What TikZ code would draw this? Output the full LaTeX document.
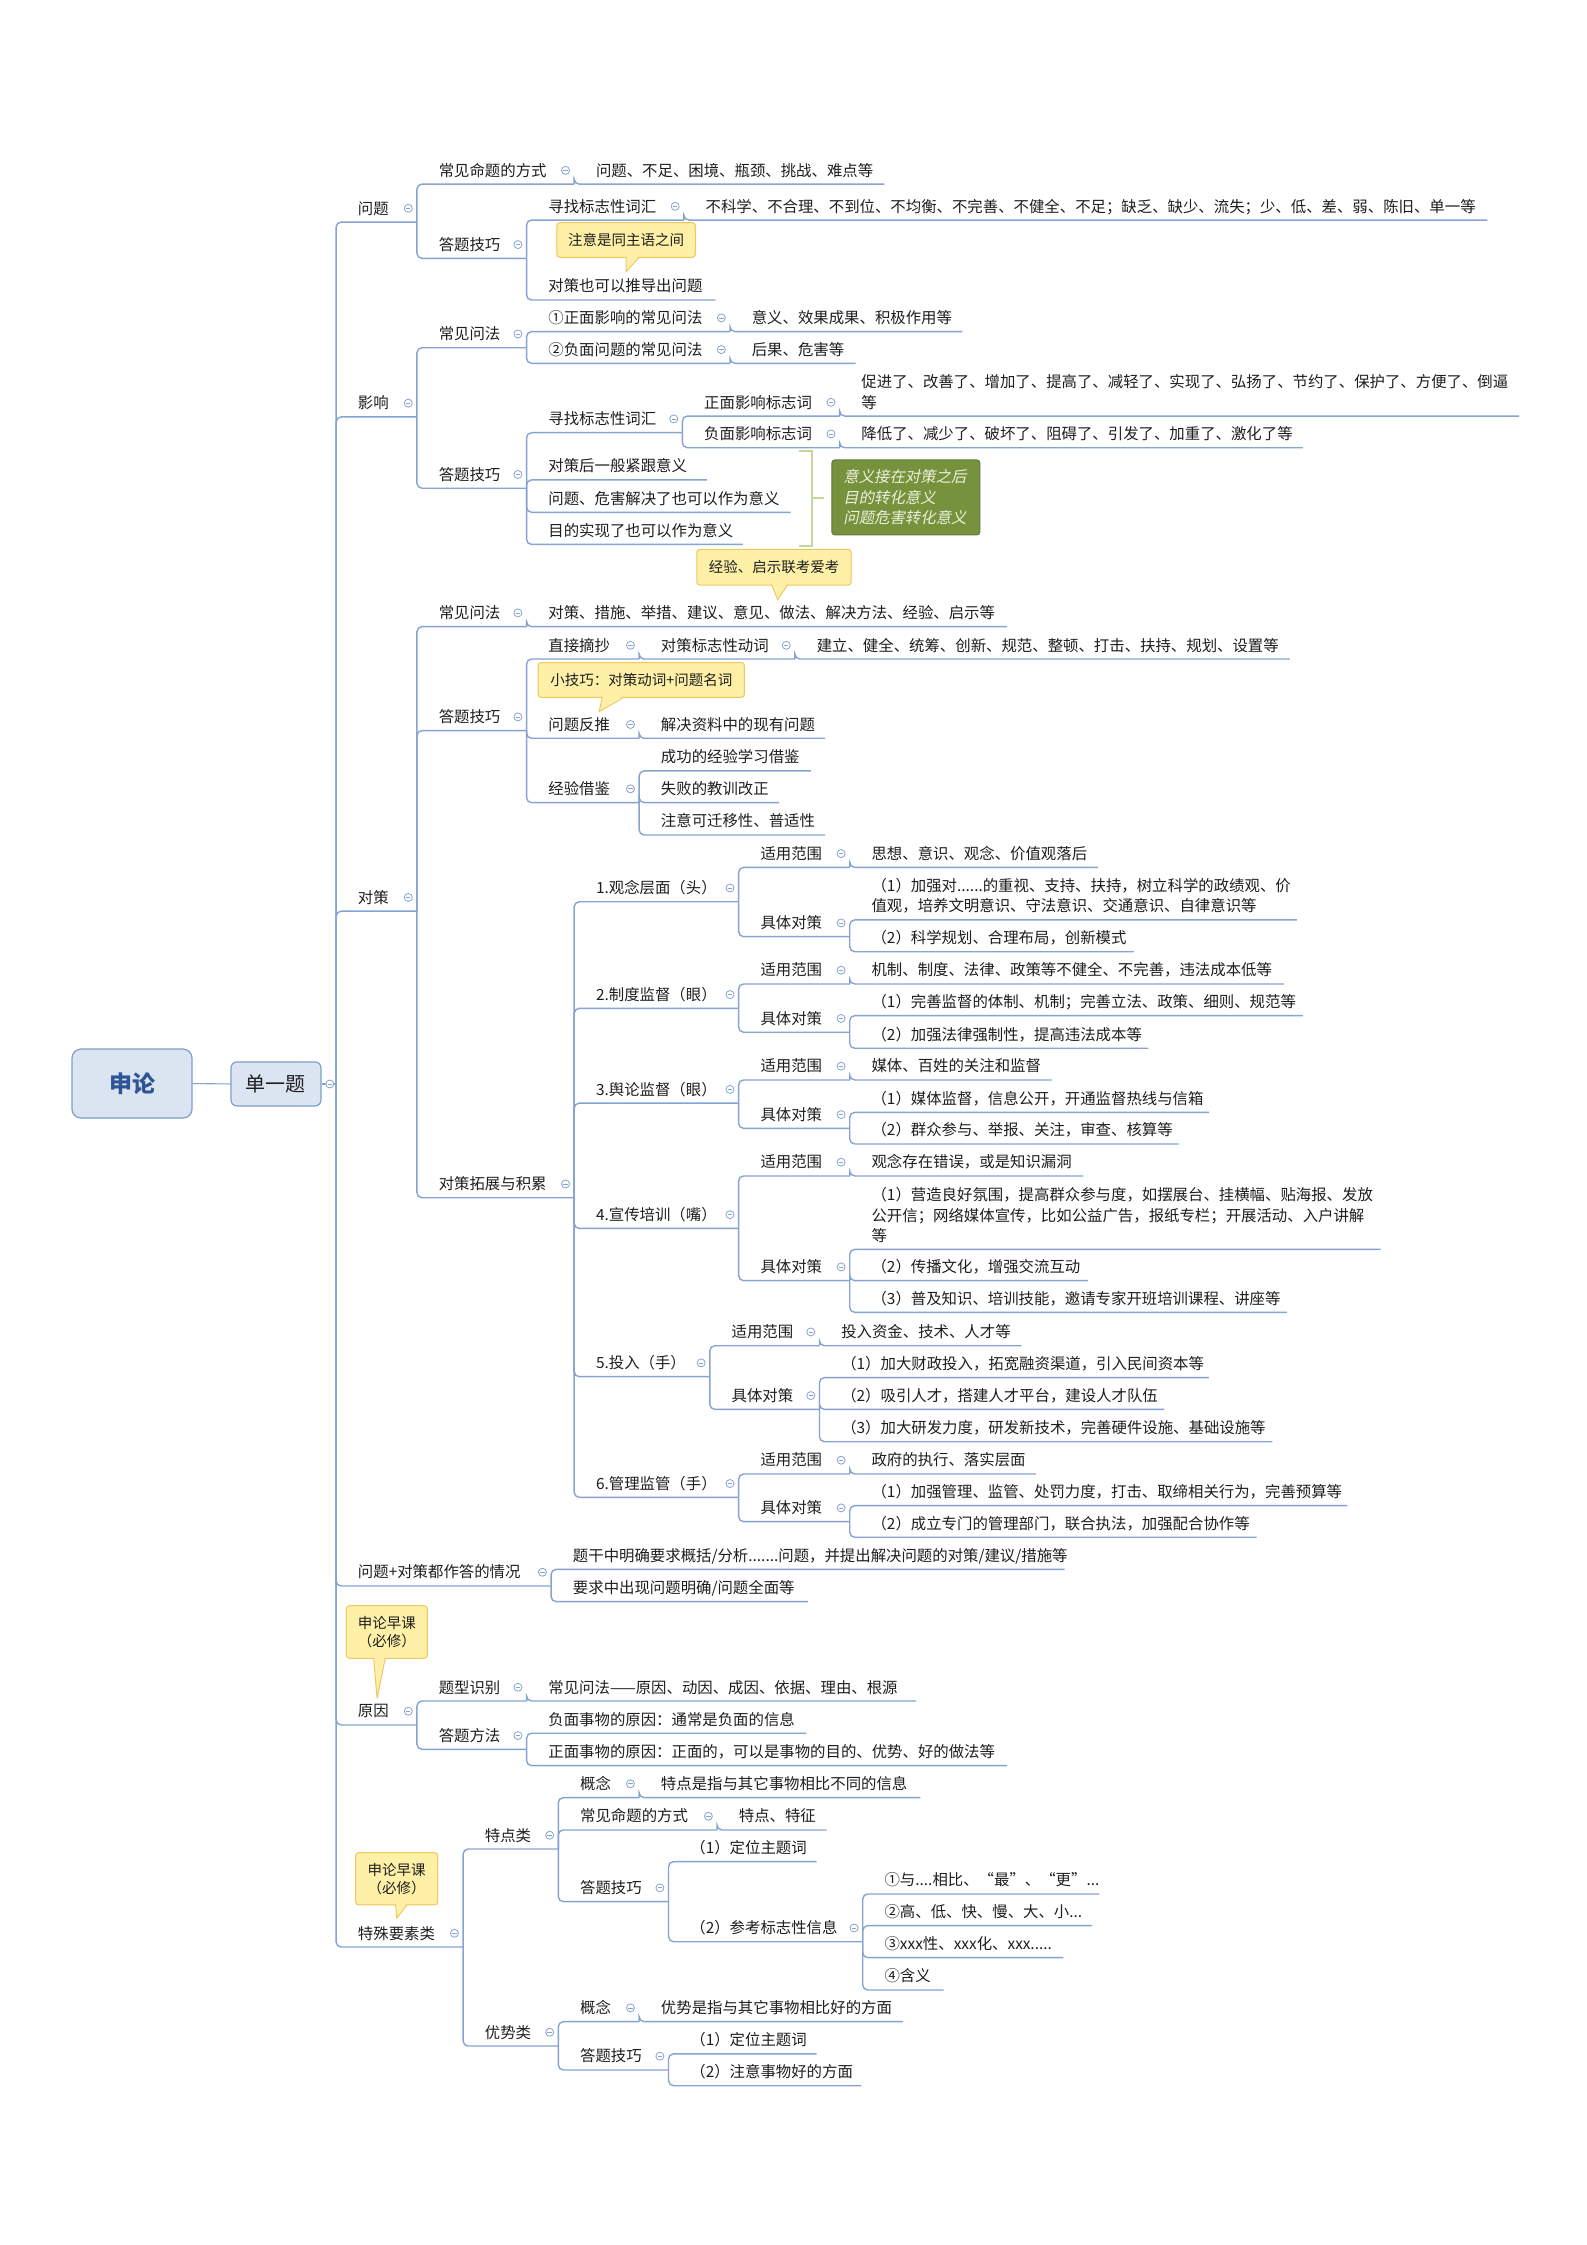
\documentclass[tikz,border=0pt]{standalone}
\usepackage{fontspec}
\setmainfont{Noto Sans CJK SC}
\newfontfamily\slfont{Noto Sans CJK SC}[FakeSlant=0.2]
\usetikzlibrary{calc}
\definecolor{lnc}{RGB}{134,163,210}
\definecolor{txc}{RGB}{30,30,30}
\definecolor{rbf}{RGB}{219,229,241}
\definecolor{rbd}{RGB}{126,157,204}
\definecolor{rtx}{RGB}{47,84,150}
\definecolor{cfl}{RGB}{254,240,166}
\definecolor{cdr}{RGB}{238,200,92}
\definecolor{sfl}{RGB}{119,146,60}
\definecolor{sdr}{RGB}{96,122,62}
\definecolor{stx}{RGB}{235,241,222}
\definecolor{brc}{RGB}{196,215,155}
\newcommand\mf{\fontsize{15.4pt}{20.2pt}\selectfont}
\newcommand\cfn{\fontsize{14.5pt}{18.3pt}\selectfont}
\tikzset{
  ln/.style={draw=lnc, line width=1.4pt, rounded corners=5pt},
  txt/.style={anchor=base west, inner sep=0pt, text=txc, font=\mf},
  cbtn/.style={circle, draw=lnc, fill=white, line width=0.8pt, minimum size=8pt, inner sep=0pt,
    path picture={\draw[lnc, line width=0.8pt] ([xshift=-2.2pt]path picture bounding box.center) -- ([xshift=2.2pt]path picture bounding box.center);}},
  rootbox/.style={draw=rbd, fill=rbf, line width=1.2pt, rounded corners=9pt, inner sep=0pt},
  callout/.style={draw=cdr, fill=cfl, line width=1pt, rounded corners=3pt, inner sep=0pt, text=txc, font=\cfn, align=center},
  sumbox/.style={draw=sdr, fill=sfl, line width=1pt, rounded corners=3pt, inner xsep=11.5pt, inner ysep=0pt, text width=125pt, minimum height=75pt, align=left, text=stx, font={\slfont\fontsize{15.4pt}{20.5pt}\selectfont}},
}
\newcommand\leafn[6]{%
  \coordinate (#1-e) at (#4,#5);
  \node[txt] (#1) at (#3+15,#5-5.6) {#6};
  \draw[ln] (#2-e) |- (#1-e);}
\newcommand\parn[6]{\leafn{#1}{#2}{#3}{#4}{#5}{#6}%
  \node[cbtn] (#1-c) at (#4-6,#5-9.6) {};}
\newcommand\leafm[7]{%
  \coordinate (#1-e) at (#4,#5);
  \node[txt] (#1) at (#3+15,#5-5.6-14.1*#6+14.1) {\vtop{#7}};
  \draw[ln] (#2-e) |- (#1-e);}
\newcommand\ctail[5]{%
  \fill[cfl] (#1+0.4,#3-0.9) -- (#4,#5) -- (#2-0.4,#3-0.9) -- cycle;
  \draw[cdr, line width=1pt, line join=round] (#1,#3) -- (#4,#5) -- (#2,#3);}
\begin{document}
\begin{tikzpicture}[x=1.4427pt,y=-1.4327pt]
\fill[white] (0,0) rectangle (1100,1567);
\useasboundingbox (0,0) rectangle (1100,1567);

% root
\node[rootbox, minimum width=120pt, minimum height=69pt, font=\fontsize{23pt}{23pt}\selectfont\bfseries, text=rtx] (sl) at (91.5,756.3) {申论};
\node[rootbox, rounded corners=6pt, minimum width=90pt, minimum height=44pt, font=\fontsize{20pt}{20pt}\selectfont, text=txc] (dyt) at (191.3,756.6) {单一题};
\coordinate (dyt-e) at (233,756.6);
\draw[draw=lnc, line width=1.1pt] (sl.east) -- (dyt.west);
\draw[ln] (dyt.east) -- (dyt-e);
\node[cbtn] (dyt-c) at (228.6,756.6) {};

% level 1
\parn{q1}{dyt}{233}{289}{155}{问题}
\parn{y1}{dyt}{233}{289}{291}{影响}
\parn{d1}{dyt}{233}{289}{636}{对策}
\parn{b1}{dyt}{233}{382}{1107}{问题+对策都作答的情况}
\parn{r1}{dyt}{233}{289}{1204}{原因}
\parn{t1}{dyt}{233}{321}{1359}{特殊要素类}

% 问题
\parn{q2a}{q1}{289}{398}{128.5}{常见命题的方式}
\leafn{q3a}{q2a}{398}{613}{128.5}{问题、不足、困境、瓶颈、挑战、难点等}
\parn{q2b}{q1}{289}{365}{180.3}{答题技巧}
\parn{q3b}{q2b}{365}{474}{153.6}{寻找标志性词汇}
\leafn{q4}{q3b}{474}{1031}{153.6}{不科学、不合理、不到位、不均衡、不完善、不健全、不足；缺乏、缺少、流失；少、低、差、弱、陈旧、单一等}
\leafn{q3c}{q2b}{365}{496}{209.4}{对策也可以推导出问题}
\node[callout, minimum width=138.5pt, minimum height=34.7pt] (c1) at (434,167.5) {注意是同主语之间};
\ctail{434}{443}{179.6}{434}{189.6}

% 影响
\parn{y2a}{y1}{289}{365}{242.7}{常见问法}
\parn{y3a}{y2a}{365}{506}{231.5}{①正面影响的常见问法}
\leafn{y4a}{y3a}{506}{667}{231.5}{意义、效果成果、积极作用等}
\parn{y3b}{y2a}{365}{506}{253.6}{②负面问题的常见问法}
\leafn{y4b}{y3b}{506}{593}{253.6}{后果、危害等}
\parn{y2b}{y1}{289}{365}{340.8}{答题技巧}
\parn{y3c}{y2b}{365}{473}{302}{寻找标志性词汇}
\parn{y4c}{y3c}{473}{582}{290.4}{正面影响标志词}
\leafm{y5a}{y4c}{582}{1053}{290.4}{2}{\hbox{促进了、改善了、增加了、提高了、减轻了、实现了、弘扬了、节约了、保护了、方便了、倒逼}\hbox{等}}
\parn{y4d}{y3c}{473}{582}{312.5}{负面影响标志词}
\leafn{y5b}{y4d}{582}{903}{312.5}{降低了、减少了、破坏了、阻碍了、引发了、加重了、激化了等}
\leafn{y3d}{y2b}{365}{490}{335}{对策后一般紧跟意义}
\leafn{y3e}{y2b}{365}{548}{357.6}{问题、危害解决了也可以作为意义}
\leafn{y3f}{y2b}{365}{515}{380}{目的实现了也可以作为意义}
\draw[brc, line width=1.6pt] (554,314.6) -- (563,314.6) -- (563,381) -- (554,381);
\draw[brc, line width=1.6pt] (563,347.5) -- (571,347.5);
\node[sumbox] (sum) at (627.9,347.2) {意义接在对策之后\\目的转化意义\\问题危害转化意义};
\node[callout, minimum width=154.4pt, minimum height=35.7pt] (c2) at (536.5,395.9) {经验、启示联考爱考};
\ctail{535}{546}{408.3}{539}{418.5}

% 对策
\parn{d2a}{d1}{289}{365}{437.4}{常见问法}
\leafn{d3a}{d2a}{365}{698}{437.4}{对策、措施、举措、建议、意见、做法、解决方法、经验、启示等}
\parn{d2b}{d1}{289}{365}{510}{答题技巧}
\parn{d3b}{d2b}{365}{443}{460}{直接摘抄}
\parn{d4b}{d3b}{443}{551}{460}{对策标志性动词}
\leafn{d5b}{d4b}{551}{894}{460}{建立、健全、统筹、创新、规范、整顿、打击、扶持、规划、设置等}
\parn{d3c}{d2b}{365}{443}{515.3}{问题反推}
\leafn{d4c}{d3c}{443}{572}{515.3}{解决资料中的现有问题}
\node[callout, minimum width=206.3pt, minimum height=34.7pt] (c3) at (444.5,474.6) {小技巧：对策动词+问题名词};
\ctail{417.5}{432.5}{486.7}{415.3}{496.7}
\parn{d3d}{d2b}{365}{443}{560.2}{经验借鉴}
\leafn{d4d}{d3d}{443}{562}{538.1}{成功的经验学习借鉴}
\leafn{d4e}{d3d}{443}{540}{560.2}{失败的教训改正}
\leafn{d4f}{d3d}{443}{572}{582.8}{注意可迁移性、普适性}
\parn{d2c}{d1}{289}{398}{836}{对策拓展与积累}

\parn{e1}{d2c}{398}{512}{629.4}{1.观念层面（头）}
\parn{e1a}{e1}{512}{589}{605.4}{适用范围}
\leafn{e1a1}{e1a}{589}{761}{605.4}{思想、意识、观念、价值观落后}
\parn{e1b}{e1}{512}{589}{653.8}{具体对策}
\leafm{e1b1}{e1b}{589}{899}{642.1}{2}{\hbox{（1）加强对......的重视、支持、扶持，树立科学的政绩观、价}\hbox{值观，培养文明意识、守法意识、交通意识、自律意识等}}
\leafn{e1b2}{e1b}{589}{786}{664.3}{（2）科学规划、合理布局，创新模式}

\parn{e2}{d2c}{398}{512}{703.8}{2.制度监督（眼）}
\parn{e2a}{e2}{512}{589}{686.8}{适用范围}
\leafn{e2a1}{e2a}{589}{890}{686.8}{机制、制度、法律、政策等不健全、不完善，违法成本低等}
\parn{e2b}{e2}{512}{589}{720.5}{具体对策}
\leafn{e2b1}{e2b}{589}{903}{708.9}{（1）完善监督的体制、机制；完善立法、政策、细则、规范等}
\leafn{e2b2}{e2b}{589}{796}{731.7}{（2）加强法律强制性，提高违法成本等}

\parn{e3}{d2c}{398}{512}{770}{3.舆论监督（眼）}
\parn{e3a}{e3}{512}{589}{753.8}{适用范围}
\leafn{e3a1}{e3a}{589}{729}{753.8}{媒体、百姓的关注和监督}
\parn{e3b}{e3}{512}{589}{787.6}{具体对策}
\leafn{e3b1}{e3b}{589}{838}{776.4}{（1）媒体监督，信息公开，开通监督热线与信箱}
\leafn{e3b2}{e3b}{589}{817}{798.5}{（2）群众参与、举报、关注，审查、核算等}

\parn{e4}{d2c}{398}{512}{857.4}{4.宣传培训（嘴）}
\parn{e4a}{e4}{512}{589}{820.8}{适用范围}
\leafn{e4a1}{e4a}{589}{751}{820.8}{观念存在错误，或是知识漏洞}
\parn{e4b}{e4}{512}{589}{893.9}{具体对策}
\leafm{e4b1}{e4b}{589}{957}{872}{3}{\hbox{（1）营造良好氛围，提高群众参与度，如摆展台、挂横幅、贴海报、发放}\hbox{公开信；网络媒体宣传，比如公益广告，报纸专栏；开展活动、入户讲解}\hbox{等}}
\leafn{e4b2}{e4b}{589}{754}{893.9}{（2）传播文化，增强交流互动}
\leafn{e4b3}{e4b}{589}{892}{916}{（3）普及知识、培训技能，邀请专家开班培训课程、讲座等}

\parn{e5}{d2c}{398}{492}{960.9}{5.投入（手）}
\parn{e5a}{e5}{492}{568}{939.3}{适用范围}
\leafn{e5a1}{e5a}{568}{708}{939.3}{投入资金、技术、人才等}
\parn{e5b}{e5}{492}{568}{983.7}{具体对策}
\leafn{e5b1}{e5b}{568}{838}{961.6}{（1）加大财政投入，拓宽融资渠道，引入民间资本等}
\leafn{e5b2}{e5b}{568}{807}{983.7}{（2）吸引人才，搭建人才平台，建设人才队伍}
\leafn{e5b3}{e5b}{568}{882}{1006.3}{（3）加大研发力度，研发新技术，完善硬件设施、基础设施等}

\parn{e6}{d2c}{398}{512}{1045.1}{6.管理监管（手）}
\parn{e6a}{e6}{512}{589}{1028.8}{适用范围}
\leafn{e6a1}{e6a}{589}{718}{1028.8}{政府的执行、落实层面}
\parn{e6b}{e6}{512}{589}{1062.1}{具体对策}
\leafn{e6b1}{e6b}{589}{934}{1050.9}{（1）加强管理、监管、处罚力度，打击、取缔相关行为，完善预算等}
\leafn{e6b2}{e6b}{589}{871}{1073}{（2）成立专门的管理部门，联合执法，加强配合协作等}

% 问题+对策
\leafn{b2a}{b1}{382}{738}{1095.4}{题干中明确要求概括/分析.......问题，并提出解决问题的对策/建议/措施等}
\leafn{b2b}{b1}{382}{560}{1117.9}{要求中出现问题明确/问题全面等}

% 原因
\node[callout, minimum width=81pt, minimum height=52.7pt] (c4) at (268.2,1139.1) {申论早课\\（必修）};
\ctail{259}{267}{1157.5}{261.4}{1185.4}
\parn{r2a}{r1}{289}{365}{1187.3}{题型识别}
\leafn{r3a}{r2a}{365}{635}{1187.3}{常见问法——原因、动因、成因、依据、理由、根源}
\parn{r2b}{r1}{289}{365}{1221}{答题方法}
\leafn{r3b}{r2b}{365}{559}{1209.8}{负面事物的原因：通常是负面的信息}
\leafn{r3c}{r2b}{365}{698}{1232.4}{正面事物的原因：正面的，可以是事物的目的、优势、好的做法等}

% 特殊要素类
\node[callout, minimum width=82pt, minimum height=52.3pt] (c5) at (275,1311.4) {申论早课\\（必修）};
\ctail{274.2}{282}{1329.6}{275}{1338.9}
\parn{t2a}{t1}{321}{387}{1290.6}{特点类}
\parn{t3a}{t2a}{387}{443}{1254.7}{概念}
\leafn{t4a}{t3a}{443}{638}{1254.7}{特点是指与其它事物相比不同的信息}
\parn{t3b}{t2a}{387}{497}{1277.3}{常见命题的方式}
\leafn{t4b}{t3b}{497}{573}{1277.3}{特点、特征}
\parn{t3c}{t2a}{387}{463.4}{1327.3}{答题技巧}
\leafn{t4c}{t3c}{463.4}{566}{1299.4}{（1）定位主题词}
\parn{t4d}{t3c}{463.4}{598}{1355.3}{（2）参考标志性信息}
\leafn{t5a}{t4d}{598}{762}{1322}{①与....相比、“最”、“更”...}
\leafn{t5b}{t4d}{598}{757}{1344.1}{②高、低、快、慢、大、小...}
\leafn{t5c}{t4d}{598}{737}{1366.4}{③xxx性、xxx化、xxx.....}
\leafn{t5d}{t4d}{598}{654}{1389}{④含义}
\parn{t2b}{t1}{321}{387}{1428.1}{优势类}
\parn{t3d}{t2b}{387}{443}{1411.1}{概念}
\leafn{t4e}{t3d}{443}{626}{1411.1}{优势是指与其它事物相比好的方面}
\parn{t3e}{t2b}{387}{463.4}{1444.8}{答题技巧}
\leafn{t4f}{t3e}{463.4}{566}{1433.6}{（1）定位主题词}
\leafn{t4g}{t3e}{463.4}{597}{1455.8}{（2）注意事物好的方面}
\end{tikzpicture}
\end{document}
